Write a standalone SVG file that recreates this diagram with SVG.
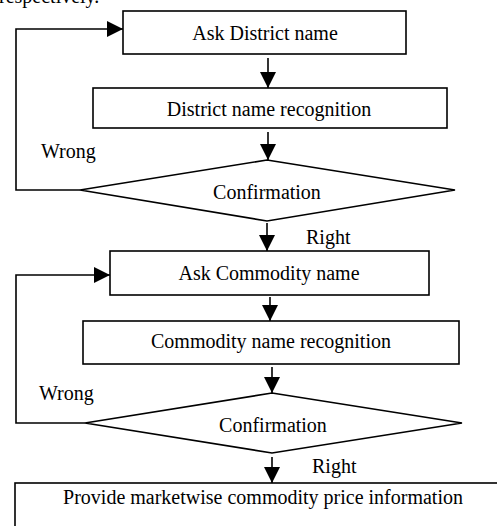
<svg xmlns="http://www.w3.org/2000/svg" width="497" height="526" viewBox="0 0 497 526">
<style>
.n{fill:#fff;stroke:#000;stroke-width:1.6}
.t{font-family:"Liberation Serif","Times New Roman",serif;font-size:20px;fill:#000}
.m{text-anchor:middle}
.c{fill:none;stroke:#000;stroke-width:1.6}
</style>
<defs>
<marker id="ah" markerUnits="userSpaceOnUse" markerWidth="16" markerHeight="16" refX="16" refY="8" orient="auto" viewBox="0 0 16 16">
<path d="M0,0 L16,8 L0,16 z" fill="#000"/>
</marker>
</defs>
<rect width="497" height="526" fill="#fff"/>
<text class="t" x="-1" y="3">respectively.</text>
<g id="connectors">
<line class="c" x1="268" y1="58" x2="268" y2="88" marker-end="url(#ah)"/>
<line class="c" x1="268" y1="132" x2="268" y2="160" marker-end="url(#ah)"/>
<line class="c" x1="267" y1="223" x2="267" y2="251" marker-end="url(#ah)"/>
<line class="c" x1="270" y1="297" x2="270" y2="321" marker-end="url(#ah)"/>
<line class="c" x1="272" y1="367" x2="272" y2="393" marker-end="url(#ah)"/>
<line class="c" x1="272" y1="457" x2="272" y2="483" marker-end="url(#ah)"/>
<polyline class="c" points="80,190 16,190 16,29 123,29" marker-end="url(#ah)"/>
<polyline class="c" points="85,423 16,423 16,275 110,275" marker-end="url(#ah)"/>
<text class="t" x="41" y="158">Wrong</text>
<text class="t" x="306" y="244">Right</text>
<text class="t" x="39" y="400">Wrong</text>
<text class="t" x="312" y="473">Right</text>
</g>
<g id="ask-district">
<rect class="n" x="123" y="11" width="283" height="43"/>
<text class="t m" x="265" y="40">Ask District name</text>
</g>
<g id="district-recognition">
<rect class="n" x="93" y="88" width="354" height="40"/>
<text class="t m" x="269" y="116">District name recognition</text>
</g>
<g id="confirm-district">
<polygon class="n" points="267,160 455,190 267,221 80,190"/>
<text class="t m" x="267" y="199">Confirmation</text>
</g>
<g id="ask-commodity">
<rect class="n" x="110" y="251" width="319" height="44"/>
<text class="t m" x="269" y="280">Ask Commodity name</text>
</g>
<g id="commodity-recognition">
<rect class="n" x="83" y="321" width="376" height="43"/>
<text class="t m" x="271" y="348">Commodity name recognition</text>
</g>
<g id="confirm-commodity">
<polygon class="n" points="272,393 462,423 272,453 85,423"/>
<text class="t m" x="273" y="432">Confirmation</text>
</g>
<g id="provide-info">
<rect class="n" x="15" y="483" width="500" height="60"/>
<text class="t m" x="263" y="504">Provide marketwise commodity price information</text>
</g>
</svg>
